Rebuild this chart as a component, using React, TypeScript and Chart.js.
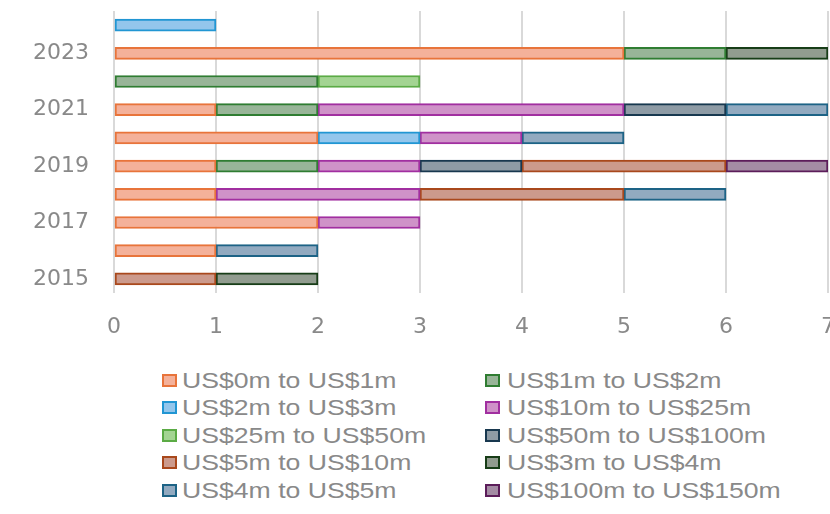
import React, { useEffect, useRef } from 'react';
import { Chart, registerables } from 'chart.js';

Chart.register(...registerables);

// Years, top row first
const years = ['2024', '2023', '2022', '2021', '2020', '2019', '2018', '2017', '2016', '2015'];
// Only every other year gets a label on the axis
const labelledYears = ['2023', '2021', '2019', '2017', '2015'];

const xMin = 0;
const xMax = 7;

// Deal-size bands, in legend order
const bands = [
  'US$0m to US$1m',
  'US$1m to US$2m',
  'US$2m to US$3m',
  'US$10m to US$25m',
  'US$25m to US$50m',
  'US$50m to US$100m',
  'US$5m to US$10m',
  'US$3m to US$4m',
  'US$4m to US$5m',
  'US$100m to US$150m',
];

// Counts per year (2024 … 2015) for each band
const band0to1 = [0, 5, 0, 1, 2, 1, 1, 2, 1, 0];
const band1to2 = [0, 1, 2, 1, 0, 1, 0, 0, 0, 0];
const band2to3 = [1, 0, 0, 0, 1, 0, 0, 0, 0, 0];
const band10to25 = [0, 0, 0, 3, 1, 1, 2, 1, 0, 0];
const band25to50 = [0, 0, 1, 0, 0, 0, 0, 0, 0, 0];
const band50to100 = [0, 0, 0, 1, 0, 1, 0, 0, 0, 0];
const band5to10 = [0, 0, 0, 0, 0, 2, 2, 0, 0, 1];
const band3to4 = [0, 1, 0, 0, 0, 0, 0, 0, 0, 1];
const band4to5 = [0, 0, 0, 1, 1, 0, 1, 0, 1, 0];
const band100to150 = [0, 0, 0, 0, 0, 1, 0, 0, 0, 0];

const bandValues = [
  band0to1, band1to2, band2to3, band10to25, band25to50,
  band50to100, band5to10, band3to4, band4to5, band100to150,
];

const edgeColors = [
  '#e8743b', '#2f7d32', '#2196d3', '#a12fa0', '#5bab45',
  '#18384f', '#a9481c', '#173d17', '#1d6386', '#5c1d5a',
];
const fillColors = [
  '#f4b19a', '#98b598', '#93c6ec', '#cf92c8', '#a3d492',
  '#8e9ba5', '#cc9a8c', '#919c8f', '#92aac0', '#a48ca4',
];

const textGray = '#898989';
const tickFont = { family: '"DejaVu Sans", sans-serif', size: 22 };

export default function App() {
  const canvasRef = useRef<HTMLCanvasElement | null>(null);

  useEffect(() => {
    const canvas = canvasRef.current;
    if (!canvas) return;
    const chart = new Chart(canvas, {
      type: 'bar',
      data: {
        labels: years,
        datasets: bands.map((label, i) => ({
          label,
          data: bandValues[i].map((v) => (v === 0 ? null : v)),
          backgroundColor: fillColors[i],
          borderColor: edgeColors[i],
          borderWidth: 2,
          borderSkipped: false,
          barThickness: 12,
        })),
      },
      options: {
        indexAxis: 'y',
        responsive: false,
        animation: false,
        layout: { padding: { left: 0, top: 11, right: 7, bottom: 0 } },
        plugins: {
          legend: { display: false },
          tooltip: { enabled: false },
        },
        scales: {
          x: {
            stacked: true,
            min: xMin,
            max: xMax,
            ticks: { stepSize: 1, color: textGray, font: tickFont, padding: 21, maxRotation: 0 },
            grid: { color: '#d9d9d9', lineWidth: 2, drawTicks: false },
            border: { display: false },
            afterFit: (scale: any) => {
              scale.paddingLeft = 0;
              scale.paddingRight = 0;
              scale.height = 48;
            },
          },
          y: {
            stacked: true,
            ticks: {
              color: textGray,
              font: tickFont,
              padding: 25,
              autoSkip: false,
              callback: function (value: any) {
                const lbl = (this as any).getLabelForValue(value);
                return labelledYears.includes(lbl) ? lbl : '';
              },
            },
            grid: { display: false, drawTicks: false },
            border: { display: false },
            afterFit: (scale: any) => {
              scale.paddingTop = 0;
              scale.paddingBottom = 0;
              scale.width = 114;
            },
          },
        },
      },
    });
    return () => chart.destroy();
  }, []);

  const rowTop = 367;
  const rowStep = 27.4;
  const columns = [
    { box: 162, text: 182 },
    { box: 485, text: 507 },
  ];

  return (
    <div
      style={{
        position: 'absolute',
        left: 0,
        top: 0,
        width: 830,
        height: 514,
        overflow: 'hidden',
        background: '#ffffff',
      }}
    >
      <canvas ref={canvasRef} width={835} height={341} style={{ position: 'absolute', left: 0, top: 0 }} />
      {bands.map((label, i) => {
        const col = columns[i % 2];
        const row = Math.floor(i / 2);
        const top = rowTop + row * rowStep;
        return (
          <React.Fragment key={label}>
            <div
              style={{
                position: 'absolute',
                left: col.box,
                top: top + 7,
                width: 15,
                height: 13,
                boxSizing: 'border-box',
                border: `2px solid ${edgeColors[i]}`,
                background: fillColors[i],
              }}
            />
            <div
              style={{
                position: 'absolute',
                left: col.text,
                top,
                height: 27,
                lineHeight: '27px',
                fontFamily: '"Liberation Sans", Arial, sans-serif',
                fontSize: 22,
                color: textGray,
                whiteSpace: 'nowrap',
                transform: 'scaleX(1.21)',
                transformOrigin: 'left center',
              }}
            >
              {label}
            </div>
          </React.Fragment>
        );
      })}
    </div>
  );
}
